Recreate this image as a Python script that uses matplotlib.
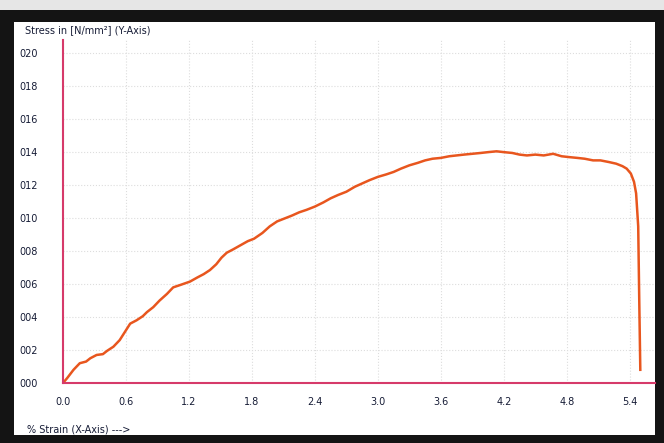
import matplotlib
matplotlib.use("Agg")
import matplotlib.pyplot as plt
from matplotlib.patches import Rectangle

# stress-strain curve
strain = [0.0, 0.04, 0.1, 0.16, 0.22, 0.26, 0.32, 0.38, 0.42, 0.48, 0.54, 0.6, 0.64, 0.7,
          0.76, 0.8, 0.86, 0.92, 0.99, 1.05, 1.12, 1.21, 1.28, 1.34, 1.4, 1.46, 1.51, 1.56,
          1.62, 1.69, 1.76, 1.82, 1.9, 1.97, 2.04, 2.1, 2.18, 2.25, 2.32, 2.4, 2.48, 2.55,
          2.62, 2.7, 2.78, 2.85, 2.92, 3.0, 3.08, 3.15, 3.22, 3.3, 3.38, 3.45, 3.52, 3.6,
          3.68, 3.75, 3.82, 3.9, 3.98, 4.05, 4.13, 4.2, 4.28, 4.35, 4.42, 4.5, 4.58, 4.67,
          4.75, 4.82, 4.9, 4.97, 5.05, 5.12, 5.2, 5.27, 5.33, 5.37, 5.41, 5.44, 5.46, 5.47,
          5.48, 5.49, 5.5]
stress = [0.0, 0.3, 0.8, 1.2, 1.3, 1.5, 1.7, 1.75, 1.95, 2.2, 2.6, 3.2, 3.6, 3.8,
          4.05, 4.3, 4.6, 5.0, 5.4, 5.8, 5.95, 6.15, 6.4, 6.6, 6.85, 7.2, 7.6, 7.9,
          8.1, 8.35, 8.6, 8.75, 9.1, 9.5, 9.8, 9.95, 10.15, 10.35, 10.5, 10.7, 10.95, 11.2,
          11.4, 11.6, 11.9, 12.1, 12.3, 12.5, 12.65, 12.8, 13.0, 13.2, 13.35, 13.5, 13.6, 13.65,
          13.75, 13.8, 13.85, 13.9, 13.95, 14.0, 14.05, 14.0, 13.95, 13.85, 13.8, 13.85, 13.8, 13.9,
          13.75, 13.7, 13.65, 13.6, 13.5, 13.5, 13.4, 13.3, 13.15, 13.0, 12.7, 12.2, 11.5, 10.5,
          9.5, 5.0, 0.8]

x_ticks = [0.0, 0.6, 1.2, 1.8, 2.4, 3.0, 3.6, 4.2, 4.8, 5.4]
y_ticks = [0, 2, 4, 6, 8, 10, 12, 14, 16, 18, 20]
y_labels = ["%03d" % v for v in y_ticks]

W, H = 664, 443
fig = plt.figure(figsize=(W / 100, H / 100), dpi=100)
fig.patch.set_facecolor("#141414")

# light strip above the screen and the white screen area
fig.add_artist(Rectangle((0, 1 - 10 / H), 1, 10 / H, transform=fig.transFigure,
                         facecolor="#e6e6e6", edgecolor="none", zorder=-10))
fig.add_artist(Rectangle((14 / W, 1 - 435 / H), (655 - 14) / W, (435 - 22) / H,
                         transform=fig.transFigure, facecolor="white", edgecolor="none",
                         zorder=-10))

ax = fig.add_axes([63 / W, 1 - 383 / H, (655 - 63) / W, (383 - 40) / H])
ax.set_facecolor("white")
ax.plot(strain, stress, color="#e8561e", lw=1.8)

ax.set_xlim(0, 5.64)
ax.set_ylim(0, 20.8)
ax.set_xticks(x_ticks)
ax.set_xticklabels(["%.1f" % v for v in x_ticks])
ax.set_yticks(y_ticks)
ax.set_yticklabels(y_labels)
ax.tick_params(length=0, labelsize=7, labelcolor="#161c36")
ax.tick_params(axis="x", pad=10)
ax.tick_params(axis="y", pad=18)
ax.grid(True, color="#dddddd", linestyle=":", lw=0.8)

for s in ["top", "right"]:
    ax.spines[s].set_visible(False)
for s in ["left", "bottom"]:
    ax.spines[s].set_color("#d63a6a")
    ax.spines[s].set_linewidth(1.5)

fig.text(25 / W, 1 - 30 / H, "Stress in [N/mm²] (Y-Axis)", fontsize=7,
         color="#161c36", va="center")
fig.text(27 / W, 1 - 430 / H, "% Strain (X-Axis) --->", fontsize=7,
         color="#161c36", va="center")

fig.savefig("out.png", dpi=100, facecolor=fig.get_facecolor())
